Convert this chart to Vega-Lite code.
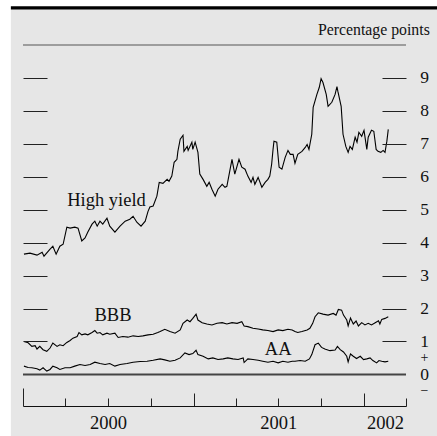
{
  "$schema": "https://vega.github.io/schema/vega-lite/v6.json",
  "autosize": {"type": "none"},
  "width": 383,
  "height": 361,
  "padding": {"left": 23, "top": 45, "right": 31, "bottom": 30},
  "background": "#ffffff",
  "config": {
    "view": {"stroke": null},
    "axis": {"grid": false, "title": null, "labelFont": "Liberation Serif", "labelFontSize": 18.5, "labelColor": "#111111", "tickColor": "#222222", "tickWidth": 1, "domainColor": "#111111", "labelOverlap": false, "labelFlush": false},
    "text": {"font": "Liberation Serif", "color": "#111111"}
  },
  "datasets": {
    "one": [{}],
    "series": [
      {"series": "High yield", "date": "2000-01-03", "value": 3.65},
      {"series": "High yield", "date": "2000-01-16", "value": 3.68},
      {"series": "High yield", "date": "2000-01-31", "value": 3.62},
      {"series": "High yield", "date": "2000-02-11", "value": 3.71},
      {"series": "High yield", "date": "2000-02-15", "value": 3.59},
      {"series": "High yield", "date": "2000-02-28", "value": 3.80},
      {"series": "High yield", "date": "2000-03-05", "value": 3.89},
      {"series": "High yield", "date": "2000-03-12", "value": 3.65},
      {"series": "High yield", "date": "2000-03-20", "value": 3.89},
      {"series": "High yield", "date": "2000-03-27", "value": 3.95},
      {"series": "High yield", "date": "2000-04-04", "value": 4.47},
      {"series": "High yield", "date": "2000-04-11", "value": 4.44},
      {"series": "High yield", "date": "2000-04-21", "value": 4.47},
      {"series": "High yield", "date": "2000-04-28", "value": 4.44},
      {"series": "High yield", "date": "2000-05-06", "value": 4.05},
      {"series": "High yield", "date": "2000-05-13", "value": 4.14},
      {"series": "High yield", "date": "2000-05-19", "value": 4.32},
      {"series": "High yield", "date": "2000-05-28", "value": 4.56},
      {"series": "High yield", "date": "2000-06-03", "value": 4.65},
      {"series": "High yield", "date": "2000-06-08", "value": 4.50},
      {"series": "High yield", "date": "2000-06-14", "value": 4.65},
      {"series": "High yield", "date": "2000-06-20", "value": 4.56},
      {"series": "High yield", "date": "2000-06-29", "value": 4.74},
      {"series": "High yield", "date": "2000-07-05", "value": 4.50},
      {"series": "High yield", "date": "2000-07-16", "value": 4.32},
      {"series": "High yield", "date": "2000-07-27", "value": 4.50},
      {"series": "High yield", "date": "2000-08-07", "value": 4.65},
      {"series": "High yield", "date": "2000-08-17", "value": 4.71},
      {"series": "High yield", "date": "2000-08-24", "value": 4.80},
      {"series": "High yield", "date": "2000-09-01", "value": 4.62},
      {"series": "High yield", "date": "2000-09-10", "value": 4.50},
      {"series": "High yield", "date": "2000-09-19", "value": 4.65},
      {"series": "High yield", "date": "2000-09-25", "value": 4.95},
      {"series": "High yield", "date": "2000-09-29", "value": 5.08},
      {"series": "High yield", "date": "2000-10-06", "value": 5.11},
      {"series": "High yield", "date": "2000-10-14", "value": 5.41},
      {"series": "High yield", "date": "2000-10-19", "value": 5.83},
      {"series": "High yield", "date": "2000-10-27", "value": 5.80},
      {"series": "High yield", "date": "2000-11-05", "value": 5.92},
      {"series": "High yield", "date": "2000-11-09", "value": 5.86},
      {"series": "High yield", "date": "2000-11-15", "value": 6.02},
      {"series": "High yield", "date": "2000-11-20", "value": 6.44},
      {"series": "High yield", "date": "2000-11-26", "value": 6.53},
      {"series": "High yield", "date": "2000-11-28", "value": 6.77},
      {"series": "High yield", "date": "2000-12-03", "value": 7.14},
      {"series": "High yield", "date": "2000-12-09", "value": 7.26},
      {"series": "High yield", "date": "2000-12-11", "value": 6.77},
      {"series": "High yield", "date": "2000-12-18", "value": 6.92},
      {"series": "High yield", "date": "2000-12-20", "value": 6.80},
      {"series": "High yield", "date": "2000-12-28", "value": 7.05},
      {"series": "High yield", "date": "2000-12-30", "value": 6.83},
      {"series": "High yield", "date": "2001-01-04", "value": 7.05},
      {"series": "High yield", "date": "2001-01-10", "value": 6.74},
      {"series": "High yield", "date": "2001-01-14", "value": 6.08},
      {"series": "High yield", "date": "2001-01-21", "value": 5.92},
      {"series": "High yield", "date": "2001-01-29", "value": 5.71},
      {"series": "High yield", "date": "2001-02-03", "value": 5.83},
      {"series": "High yield", "date": "2001-02-09", "value": 5.62},
      {"series": "High yield", "date": "2001-02-16", "value": 5.41},
      {"series": "High yield", "date": "2001-02-22", "value": 5.62},
      {"series": "High yield", "date": "2001-03-03", "value": 5.77},
      {"series": "High yield", "date": "2001-03-09", "value": 5.68},
      {"series": "High yield", "date": "2001-03-13", "value": 5.71},
      {"series": "High yield", "date": "2001-03-20", "value": 6.23},
      {"series": "High yield", "date": "2001-03-24", "value": 6.53},
      {"series": "High yield", "date": "2001-03-30", "value": 6.08},
      {"series": "High yield", "date": "2001-04-08", "value": 6.53},
      {"series": "High yield", "date": "2001-04-14", "value": 6.29},
      {"series": "High yield", "date": "2001-04-21", "value": 6.23},
      {"series": "High yield", "date": "2001-04-27", "value": 6.02},
      {"series": "High yield", "date": "2001-05-04", "value": 5.83},
      {"series": "High yield", "date": "2001-05-08", "value": 5.98},
      {"series": "High yield", "date": "2001-05-12", "value": 5.77},
      {"series": "High yield", "date": "2001-05-19", "value": 5.98},
      {"series": "High yield", "date": "2001-05-27", "value": 5.68},
      {"series": "High yield", "date": "2001-06-03", "value": 5.83},
      {"series": "High yield", "date": "2001-06-09", "value": 5.92},
      {"series": "High yield", "date": "2001-06-13", "value": 6.02},
      {"series": "High yield", "date": "2001-06-17", "value": 6.38},
      {"series": "High yield", "date": "2001-06-20", "value": 6.83},
      {"series": "High yield", "date": "2001-06-22", "value": 7.08},
      {"series": "High yield", "date": "2001-06-28", "value": 7.05},
      {"series": "High yield", "date": "2001-07-03", "value": 6.29},
      {"series": "High yield", "date": "2001-07-09", "value": 6.23},
      {"series": "High yield", "date": "2001-07-16", "value": 6.59},
      {"series": "High yield", "date": "2001-07-22", "value": 6.80},
      {"series": "High yield", "date": "2001-07-27", "value": 6.68},
      {"series": "High yield", "date": "2001-08-02", "value": 6.68},
      {"series": "High yield", "date": "2001-08-06", "value": 6.41},
      {"series": "High yield", "date": "2001-08-12", "value": 6.68},
      {"series": "High yield", "date": "2001-08-21", "value": 6.77},
      {"series": "High yield", "date": "2001-08-28", "value": 6.89},
      {"series": "High yield", "date": "2001-09-01", "value": 6.98},
      {"series": "High yield", "date": "2001-09-05", "value": 6.83},
      {"series": "High yield", "date": "2001-09-11", "value": 7.29},
      {"series": "High yield", "date": "2001-09-14", "value": 8.11},
      {"series": "High yield", "date": "2001-09-22", "value": 8.50},
      {"series": "High yield", "date": "2001-09-27", "value": 8.71},
      {"series": "High yield", "date": "2001-10-01", "value": 8.98},
      {"series": "High yield", "date": "2001-10-05", "value": 8.86},
      {"series": "High yield", "date": "2001-10-12", "value": 8.50},
      {"series": "High yield", "date": "2001-10-16", "value": 8.14},
      {"series": "High yield", "date": "2001-10-24", "value": 8.26},
      {"series": "High yield", "date": "2001-10-31", "value": 8.50},
      {"series": "High yield", "date": "2001-11-04", "value": 8.74},
      {"series": "High yield", "date": "2001-11-06", "value": 8.59},
      {"series": "High yield", "date": "2001-11-13", "value": 8.14},
      {"series": "High yield", "date": "2001-11-17", "value": 7.29},
      {"series": "High yield", "date": "2001-11-23", "value": 6.92},
      {"series": "High yield", "date": "2001-11-28", "value": 6.74},
      {"series": "High yield", "date": "2001-12-02", "value": 6.92},
      {"series": "High yield", "date": "2001-12-07", "value": 6.83},
      {"series": "High yield", "date": "2001-12-13", "value": 7.20},
      {"series": "High yield", "date": "2001-12-17", "value": 7.05},
      {"series": "High yield", "date": "2001-12-21", "value": 7.35},
      {"series": "High yield", "date": "2001-12-27", "value": 7.23},
      {"series": "High yield", "date": "2002-01-01", "value": 7.41},
      {"series": "High yield", "date": "2002-01-07", "value": 6.83},
      {"series": "High yield", "date": "2002-01-10", "value": 7.20},
      {"series": "High yield", "date": "2002-01-17", "value": 7.41},
      {"series": "High yield", "date": "2002-01-22", "value": 7.38},
      {"series": "High yield", "date": "2002-01-27", "value": 6.83},
      {"series": "High yield", "date": "2002-01-31", "value": 6.77},
      {"series": "High yield", "date": "2002-02-06", "value": 6.74},
      {"series": "High yield", "date": "2002-02-11", "value": 6.80},
      {"series": "High yield", "date": "2002-02-15", "value": 6.74},
      {"series": "High yield", "date": "2002-02-19", "value": 7.08},
      {"series": "High yield", "date": "2002-02-22", "value": 7.44},
      {"series": "BBB", "date": "2000-01-03", "value": 1.00},
      {"series": "BBB", "date": "2000-01-12", "value": 0.96},
      {"series": "BBB", "date": "2000-01-20", "value": 0.85},
      {"series": "BBB", "date": "2000-01-27", "value": 0.87},
      {"series": "BBB", "date": "2000-01-31", "value": 0.77},
      {"series": "BBB", "date": "2000-02-06", "value": 0.85},
      {"series": "BBB", "date": "2000-02-13", "value": 0.75},
      {"series": "BBB", "date": "2000-02-21", "value": 0.70},
      {"series": "BBB", "date": "2000-02-28", "value": 0.80},
      {"series": "BBB", "date": "2000-03-05", "value": 0.95},
      {"series": "BBB", "date": "2000-03-14", "value": 0.85},
      {"series": "BBB", "date": "2000-03-20", "value": 0.90},
      {"series": "BBB", "date": "2000-03-27", "value": 0.87},
      {"series": "BBB", "date": "2000-04-04", "value": 0.97},
      {"series": "BBB", "date": "2000-04-11", "value": 1.03},
      {"series": "BBB", "date": "2000-04-17", "value": 1.10},
      {"series": "BBB", "date": "2000-04-26", "value": 1.15},
      {"series": "BBB", "date": "2000-04-30", "value": 1.27},
      {"series": "BBB", "date": "2000-05-06", "value": 1.20},
      {"series": "BBB", "date": "2000-05-13", "value": 1.23},
      {"series": "BBB", "date": "2000-05-19", "value": 1.20},
      {"series": "BBB", "date": "2000-05-28", "value": 1.27},
      {"series": "BBB", "date": "2000-06-03", "value": 1.33},
      {"series": "BBB", "date": "2000-06-08", "value": 1.25},
      {"series": "BBB", "date": "2000-06-14", "value": 1.27},
      {"series": "BBB", "date": "2000-06-20", "value": 1.20},
      {"series": "BBB", "date": "2000-06-29", "value": 1.25},
      {"series": "BBB", "date": "2000-07-05", "value": 1.22},
      {"series": "BBB", "date": "2000-07-16", "value": 1.25},
      {"series": "BBB", "date": "2000-07-23", "value": 1.12},
      {"series": "BBB", "date": "2000-08-02", "value": 1.15},
      {"series": "BBB", "date": "2000-08-13", "value": 1.13},
      {"series": "BBB", "date": "2000-08-24", "value": 1.17},
      {"series": "BBB", "date": "2000-09-04", "value": 1.15},
      {"series": "BBB", "date": "2000-09-14", "value": 1.17},
      {"series": "BBB", "date": "2000-09-25", "value": 1.20},
      {"series": "BBB", "date": "2000-10-06", "value": 1.22},
      {"series": "BBB", "date": "2000-10-16", "value": 1.27},
      {"series": "BBB", "date": "2000-10-21", "value": 1.30},
      {"series": "BBB", "date": "2000-10-31", "value": 1.37},
      {"series": "BBB", "date": "2000-11-11", "value": 1.30},
      {"series": "BBB", "date": "2000-11-22", "value": 1.25},
      {"series": "BBB", "date": "2000-12-03", "value": 1.35},
      {"series": "BBB", "date": "2000-12-09", "value": 1.55},
      {"series": "BBB", "date": "2000-12-18", "value": 1.65},
      {"series": "BBB", "date": "2000-12-24", "value": 1.60},
      {"series": "BBB", "date": "2000-12-30", "value": 1.70},
      {"series": "BBB", "date": "2001-01-06", "value": 1.83},
      {"series": "BBB", "date": "2001-01-10", "value": 1.65},
      {"series": "BBB", "date": "2001-01-19", "value": 1.57},
      {"series": "BBB", "date": "2001-01-29", "value": 1.53},
      {"series": "BBB", "date": "2001-02-09", "value": 1.50},
      {"series": "BBB", "date": "2001-02-20", "value": 1.55},
      {"series": "BBB", "date": "2001-03-03", "value": 1.57},
      {"series": "BBB", "date": "2001-03-13", "value": 1.53},
      {"series": "BBB", "date": "2001-03-24", "value": 1.57},
      {"series": "BBB", "date": "2001-04-04", "value": 1.55},
      {"series": "BBB", "date": "2001-04-14", "value": 1.60},
      {"series": "BBB", "date": "2001-04-19", "value": 1.47},
      {"series": "BBB", "date": "2001-04-27", "value": 1.45},
      {"series": "BBB", "date": "2001-05-08", "value": 1.40},
      {"series": "BBB", "date": "2001-05-19", "value": 1.38},
      {"series": "BBB", "date": "2001-05-29", "value": 1.35},
      {"series": "BBB", "date": "2001-06-09", "value": 1.33},
      {"series": "BBB", "date": "2001-06-20", "value": 1.30},
      {"series": "BBB", "date": "2001-07-01", "value": 1.35},
      {"series": "BBB", "date": "2001-07-11", "value": 1.33},
      {"series": "BBB", "date": "2001-07-22", "value": 1.37},
      {"series": "BBB", "date": "2001-07-31", "value": 1.35},
      {"series": "BBB", "date": "2001-08-06", "value": 1.30},
      {"series": "BBB", "date": "2001-08-12", "value": 1.27},
      {"series": "BBB", "date": "2001-08-21", "value": 1.30},
      {"series": "BBB", "date": "2001-09-01", "value": 1.35},
      {"series": "BBB", "date": "2001-09-07", "value": 1.40},
      {"series": "BBB", "date": "2001-09-13", "value": 1.55},
      {"series": "BBB", "date": "2001-09-18", "value": 1.75},
      {"series": "BBB", "date": "2001-09-25", "value": 1.87},
      {"series": "BBB", "date": "2001-10-05", "value": 1.83},
      {"series": "BBB", "date": "2001-10-16", "value": 1.80},
      {"series": "BBB", "date": "2001-10-27", "value": 1.85},
      {"series": "BBB", "date": "2001-11-02", "value": 1.80},
      {"series": "BBB", "date": "2001-11-07", "value": 1.97},
      {"series": "BBB", "date": "2001-11-14", "value": 1.95},
      {"series": "BBB", "date": "2001-11-18", "value": 1.80},
      {"series": "BBB", "date": "2001-11-25", "value": 1.65},
      {"series": "BBB", "date": "2001-11-28", "value": 1.47},
      {"series": "BBB", "date": "2001-12-03", "value": 1.71},
      {"series": "BBB", "date": "2001-12-09", "value": 1.53},
      {"series": "BBB", "date": "2001-12-15", "value": 1.62},
      {"series": "BBB", "date": "2001-12-20", "value": 1.47},
      {"series": "BBB", "date": "2001-12-27", "value": 1.57},
      {"series": "BBB", "date": "2002-01-03", "value": 1.50},
      {"series": "BBB", "date": "2002-01-10", "value": 1.55},
      {"series": "BBB", "date": "2002-01-17", "value": 1.50},
      {"series": "BBB", "date": "2002-01-25", "value": 1.57},
      {"series": "BBB", "date": "2002-02-01", "value": 1.63},
      {"series": "BBB", "date": "2002-02-04", "value": 1.53},
      {"series": "BBB", "date": "2002-02-08", "value": 1.67},
      {"series": "BBB", "date": "2002-02-15", "value": 1.70},
      {"series": "BBB", "date": "2002-02-22", "value": 1.75},
      {"series": "AA", "date": "2000-01-03", "value": 0.25},
      {"series": "AA", "date": "2000-01-12", "value": 0.21},
      {"series": "AA", "date": "2000-01-20", "value": 0.20},
      {"series": "AA", "date": "2000-01-31", "value": 0.17},
      {"series": "AA", "date": "2000-02-06", "value": 0.13},
      {"series": "AA", "date": "2000-02-13", "value": 0.20},
      {"series": "AA", "date": "2000-02-21", "value": 0.10},
      {"series": "AA", "date": "2000-02-28", "value": 0.15},
      {"series": "AA", "date": "2000-03-05", "value": 0.25},
      {"series": "AA", "date": "2000-03-14", "value": 0.20},
      {"series": "AA", "date": "2000-03-20", "value": 0.15},
      {"series": "AA", "date": "2000-03-31", "value": 0.20},
      {"series": "AA", "date": "2000-04-11", "value": 0.20},
      {"series": "AA", "date": "2000-04-21", "value": 0.25},
      {"series": "AA", "date": "2000-05-02", "value": 0.30},
      {"series": "AA", "date": "2000-05-13", "value": 0.27},
      {"series": "AA", "date": "2000-05-24", "value": 0.30},
      {"series": "AA", "date": "2000-06-03", "value": 0.37},
      {"series": "AA", "date": "2000-06-14", "value": 0.33},
      {"series": "AA", "date": "2000-06-25", "value": 0.30},
      {"series": "AA", "date": "2000-07-05", "value": 0.33},
      {"series": "AA", "date": "2000-07-16", "value": 0.25},
      {"series": "AA", "date": "2000-07-27", "value": 0.30},
      {"series": "AA", "date": "2000-08-11", "value": 0.33},
      {"series": "AA", "date": "2000-08-24", "value": 0.37},
      {"series": "AA", "date": "2000-09-08", "value": 0.39},
      {"series": "AA", "date": "2000-09-23", "value": 0.40},
      {"series": "AA", "date": "2000-10-06", "value": 0.43},
      {"series": "AA", "date": "2000-10-21", "value": 0.47},
      {"series": "AA", "date": "2000-10-31", "value": 0.44},
      {"series": "AA", "date": "2000-11-11", "value": 0.40},
      {"series": "AA", "date": "2000-11-22", "value": 0.43},
      {"series": "AA", "date": "2000-12-03", "value": 0.50},
      {"series": "AA", "date": "2000-12-13", "value": 0.65},
      {"series": "AA", "date": "2000-12-22", "value": 0.60},
      {"series": "AA", "date": "2000-12-30", "value": 0.63},
      {"series": "AA", "date": "2001-01-06", "value": 0.73},
      {"series": "AA", "date": "2001-01-10", "value": 0.60},
      {"series": "AA", "date": "2001-01-21", "value": 0.55},
      {"series": "AA", "date": "2001-02-01", "value": 0.47},
      {"series": "AA", "date": "2001-02-11", "value": 0.50},
      {"series": "AA", "date": "2001-02-22", "value": 0.45},
      {"series": "AA", "date": "2001-03-05", "value": 0.47},
      {"series": "AA", "date": "2001-03-15", "value": 0.50},
      {"series": "AA", "date": "2001-03-26", "value": 0.47},
      {"series": "AA", "date": "2001-04-06", "value": 0.45},
      {"series": "AA", "date": "2001-04-17", "value": 0.50},
      {"series": "AA", "date": "2001-04-19", "value": 0.36},
      {"series": "AA", "date": "2001-04-27", "value": 0.47},
      {"series": "AA", "date": "2001-05-08", "value": 0.45},
      {"series": "AA", "date": "2001-05-19", "value": 0.43},
      {"series": "AA", "date": "2001-05-29", "value": 0.40},
      {"series": "AA", "date": "2001-06-09", "value": 0.37},
      {"series": "AA", "date": "2001-06-20", "value": 0.40},
      {"series": "AA", "date": "2001-07-01", "value": 0.35},
      {"series": "AA", "date": "2001-07-11", "value": 0.40},
      {"series": "AA", "date": "2001-07-22", "value": 0.37},
      {"series": "AA", "date": "2001-07-31", "value": 0.40},
      {"series": "AA", "date": "2001-08-06", "value": 0.40},
      {"series": "AA", "date": "2001-08-17", "value": 0.42},
      {"series": "AA", "date": "2001-08-28", "value": 0.40},
      {"series": "AA", "date": "2001-09-06", "value": 0.47},
      {"series": "AA", "date": "2001-09-11", "value": 0.60},
      {"series": "AA", "date": "2001-09-18", "value": 0.90},
      {"series": "AA", "date": "2001-09-25", "value": 0.95},
      {"series": "AA", "date": "2001-10-02", "value": 0.82},
      {"series": "AA", "date": "2001-10-09", "value": 0.77},
      {"series": "AA", "date": "2001-10-20", "value": 0.72},
      {"series": "AA", "date": "2001-10-31", "value": 0.74},
      {"series": "AA", "date": "2001-11-05", "value": 0.85},
      {"series": "AA", "date": "2001-11-11", "value": 0.75},
      {"series": "AA", "date": "2001-11-18", "value": 0.68},
      {"series": "AA", "date": "2001-11-25", "value": 0.55},
      {"series": "AA", "date": "2001-11-28", "value": 0.38},
      {"series": "AA", "date": "2001-12-03", "value": 0.62},
      {"series": "AA", "date": "2001-12-09", "value": 0.55},
      {"series": "AA", "date": "2001-12-16", "value": 0.48},
      {"series": "AA", "date": "2001-12-24", "value": 0.55},
      {"series": "AA", "date": "2001-12-31", "value": 0.45},
      {"series": "AA", "date": "2002-01-07", "value": 0.47},
      {"series": "AA", "date": "2002-01-14", "value": 0.50},
      {"series": "AA", "date": "2002-01-20", "value": 0.42},
      {"series": "AA", "date": "2002-01-28", "value": 0.35},
      {"series": "AA", "date": "2002-02-02", "value": 0.42},
      {"series": "AA", "date": "2002-02-08", "value": 0.40},
      {"series": "AA", "date": "2002-02-15", "value": 0.38},
      {"series": "AA", "date": "2002-02-22", "value": 0.40}
    ],
    "labels": [
      {"label": "High yield", "date": "2000-06-28", "value": 5.12},
      {"label": "BBB", "date": "2000-07-12", "value": 1.63},
      {"label": "AA", "date": "2001-07-01", "value": 0.59}
    ]
  },
  "resolve": {"axis": {"x": "independent", "y": "independent"}},
  "layer": [
    {
      "data": {"name": "one"},
      "mark": {"type": "rect", "color": "#e6e6e6", "clip": false},
      "encoding": {
        "x": {"datum": {"year": 1999, "month": 12, "date": 6, "utc": true}, "type": "temporal", "scale": {"type": "utc", "domain": [{"year": 2000, "month": 1, "date": 1, "utc": true}, {"year": 2002, "month": 4, "date": 1, "utc": true}]}, "axis": null},
        "x2": {"datum": {"year": 2002, "month": 6, "date": 30, "utc": true}},
        "y": {"datum": -2.5, "type": "quantitative", "scale": {"domain": [-0.96, 10], "nice": false, "zero": false}, "axis": null},
        "y2": {"datum": 11.09}
      }
    },
    {
      "data": {"name": "one"},
      "mark": {"type": "rule", "color": "#000000", "strokeWidth": 3.3, "clip": false},
      "encoding": {
        "x": {"datum": {"year": 1999, "month": 12, "date": 6, "utc": true}, "type": "temporal", "scale": {"type": "utc", "domain": [{"year": 2000, "month": 1, "date": 1, "utc": true}, {"year": 2002, "month": 4, "date": 1, "utc": true}]},
          "axis": {"orient": "bottom", "zindex": 2, "values": [{"year": 2000, "month": 1, "date": 1, "utc": true}], "tickSize": -18, "labels": false, "domain": false}},
        "x2": {"datum": {"year": 2002, "month": 6, "date": 30, "utc": true}},
        "y": {"datum": 11.13, "type": "quantitative", "scale": {"domain": [-0.96, 10], "nice": false, "zero": false}, "axis": null}
      }
    },
    {
      "data": {"name": "one"},
      "mark": {"type": "rule", "color": "#555555", "strokeWidth": 1.2},
      "encoding": {
        "x": {"datum": {"year": 2000, "month": 1, "date": 1, "utc": true}, "type": "temporal", "scale": {"type": "utc", "domain": [{"year": 2000, "month": 1, "date": 1, "utc": true}, {"year": 2002, "month": 4, "date": 1, "utc": true}]},
          "axis": {"orient": "bottom", "zindex": 2, "values": [{"year": 2000, "month": 7, "date": 1, "utc": true}, {"year": 2001, "month": 7, "date": 1, "utc": true}, {"year": 2002, "month": 2, "date": 15, "utc": true}], "ticks": false, "tickSize": 0, "domain": false, "labelPadding": 7, "labelExpr": "utcFormat(datum.value, '%Y')"}},
        "x2": {"datum": {"year": 2002, "month": 4, "date": 1, "utc": true}},
        "y": {"datum": 10, "type": "quantitative", "scale": {"domain": [-0.96, 10], "nice": false, "zero": false},
          "axis": {"orient": "right", "zindex": 2, "values": [-0.5, 0, 0.5, 1, 2, 3, 4, 5, 6, 7, 8, 9], "ticks": false, "tickSize": 0, "domain": false, "labelPadding": 18, "labelAlign": "center", "labelBaseline": "middle", "labelAngle": 0,
            "labelFontSize": {"condition": {"test": "datum.value == 0.5 || datum.value == -0.5", "value": 14}, "value": 17.5},
            "labelExpr": "datum.value == 0.5 ? '+' : (datum.value == -0.5 ? '\u2212' : datum.label)"}}
      }
    },
    {
      "data": {"name": "one"},
      "mark": {"type": "rule", "color": "#444444", "strokeWidth": 2},
      "encoding": {
        "x": {"datum": {"year": 2000, "month": 1, "date": 1, "utc": true}, "type": "temporal", "scale": {"type": "utc", "domain": [{"year": 2000, "month": 1, "date": 1, "utc": true}, {"year": 2002, "month": 4, "date": 1, "utc": true}]},
          "axis": {"orient": "bottom", "zindex": 2, "values": [{"year": 2001, "month": 1, "date": 1, "utc": true}, {"year": 2002, "month": 1, "date": 1, "utc": true}], "tickSize": -13, "labels": false, "domain": false}},
        "x2": {"datum": {"year": 2002, "month": 4, "date": 1, "utc": true}},
        "y": {"datum": 0, "type": "quantitative", "scale": {"domain": [-0.96, 10], "nice": false, "zero": false},
          "axis": {"orient": "right", "zindex": 2, "values": [1, 2, 3, 4, 5, 6, 7, 8, 9], "tickSize": -24, "labels": false, "domain": false}}
      }
    },
    {
      "data": {"name": "series"},
      "mark": {"type": "line", "color": "#000000", "strokeWidth": 1.1},
      "encoding": {
        "x": {"field": "date", "type": "temporal", "scale": {"type": "utc", "domain": [{"year": 2000, "month": 1, "date": 1, "utc": true}, {"year": 2002, "month": 4, "date": 1, "utc": true}]},
          "axis": {"orient": "bottom", "zindex": 2, "values": [{"year": 2000, "month": 4, "date": 1, "utc": true}, {"year": 2000, "month": 7, "date": 1, "utc": true}, {"year": 2000, "month": 10, "date": 1, "utc": true}, {"year": 2001, "month": 4, "date": 1, "utc": true}, {"year": 2001, "month": 7, "date": 1, "utc": true}, {"year": 2001, "month": 10, "date": 1, "utc": true}, {"year": 2002, "month": 4, "date": 1, "utc": true}], "tickSize": -8, "labels": false, "domain": true, "domainWidth": 1.2}},
        "y": {"field": "value", "type": "quantitative", "scale": {"domain": [-0.96, 10], "nice": false, "zero": false},
          "axis": {"orient": "left", "zindex": 2, "values": [1, 2, 3, 4, 5, 6, 7, 8, 9], "tickSize": -24, "labels": false, "domain": false}},
        "detail": {"field": "series", "type": "nominal"}
      }
    },
    {
      "data": {"name": "labels"},
      "mark": {"type": "text", "align": "center", "baseline": "alphabetic", "fontSize": 18.5, "font": "Liberation Serif", "color": "#111111"},
      "encoding": {
        "x": {"field": "date", "type": "temporal", "scale": {"type": "utc", "domain": [{"year": 2000, "month": 1, "date": 1, "utc": true}, {"year": 2002, "month": 4, "date": 1, "utc": true}]}, "axis": null},
        "y": {"field": "value", "type": "quantitative", "scale": {"domain": [-0.96, 10], "nice": false, "zero": false}, "axis": null},
        "text": {"field": "label"}
      }
    },
    {
      "data": {"name": "one"},
      "mark": {"type": "text", "align": "right", "baseline": "alphabetic", "fontSize": 15.8, "font": "Liberation Serif", "color": "#111111", "clip": false},
      "encoding": {
        "x": {"datum": {"year": 2002, "month": 5, "date": 22, "utc": true}, "type": "temporal", "scale": {"type": "utc", "domain": [{"year": 2000, "month": 1, "date": 1, "utc": true}, {"year": 2002, "month": 4, "date": 1, "utc": true}]}, "axis": null},
        "y": {"datum": 10.3, "type": "quantitative", "scale": {"domain": [-0.96, 10], "nice": false, "zero": false}, "axis": null},
        "text": {"value": "Percentage points"}
      }
    }
  ]
}
